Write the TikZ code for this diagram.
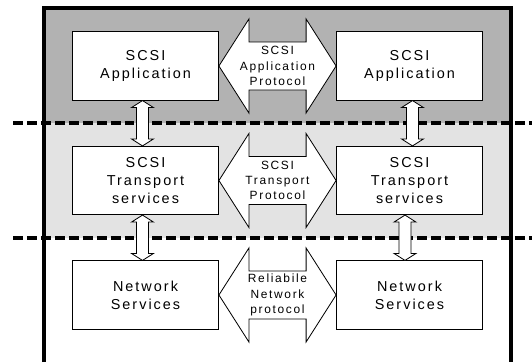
\documentclass[tikz,border=0pt]{standalone}
\usepackage{fontspec}
\setmainfont{Liberation Sans}
\newfontfamily\spacedfont[LetterSpace=14]{Liberation Sans}
\usetikzlibrary{calc}
\definecolor{appgray}{RGB}{178,178,178}
\definecolor{trgray}{RGB}{227,227,227}
\begin{document}
\begin{tikzpicture}[x=0.03cm,y=-0.03cm,
  layer/.style={draw,fill=white,line width=0.7pt,minimum width=4.38cm,minimum height=2.05cm,inner sep=0pt,align=center,font=\spacedfont\fontsize{12.3}{15.5}\selectfont},
  proto/.style={draw,fill=white,line width=0.7pt,line join=miter},
  protext/.style={align=center,inner sep=0pt,font=\spacedfont\fontsize{10.2}{13}\selectfont},
  link/.style={draw,fill=white,line width=0.7pt},
  border/.style={line width=2.8pt,dash pattern=on 8.5pt off 3.4pt}]
\useasboundingbox (0,0) rectangle (532,362);
\pgfmathsetmacro{\hl}{30}
\pgfmathsetmacro{\hh}{47}
\pgfmathsetmacro{\sh}{24}
%layer bands
\fill[appgray] (44,8) rectangle (511,123);
\fill[trgray] (44,123) rectangle (511,238);
%layer borders
\draw[border] (13,123)--(532,123);
\draw[border] (13,238)--(532,238);
%outer frame, open below
\draw[line width=3.4pt] (44,362)--(44,8)--(511,8)--(511,362);
%layer boxes
\node[layer] (appL) at (145.5,66) {SCSI\\Application};
\node[layer] (appR) at (409.5,66) {SCSI\\Application};
\node[layer] (trL) at (145.5,180.5) {SCSI\\Transport\\services};
\node[layer] (trR) at (409.5,180.5) {SCSI\\Transport\\services};
\node[layer] (netL) at (145.5,295) {Network\\Services};
\node[layer] (netR) at (409.5,295) {Network\\Services};
%peer protocols
\foreach \a/\b/\txt in {appL/appR/{SCSI\\Application\\Protocol},trL/trR/{SCSI\\Transport\\Protocol},netL/netR/{Reliabile\\Network\\protocol}}{
  \draw[proto] (\a.east)--++(\hl,-\hh)--++(0,\hh-\sh)--($(\b.west)+(-\hl,-\sh)$)--++(0,\sh-\hh)--(\b.west)
    --++(-\hl,\hh)--++(0,\sh-\hh)--($(\a.east)+(\hl,\sh)$)--++(0,\hh-\sh)--cycle;
  \node[protext] (\a txt) at ($(\a.east)!0.5!(\b.west)$) {\txt};
}
%interfaces between layers
\foreach \u/\d/\s in {appL/trL/-3,appR/trR/3,trL/netL/-3,trR/netR/-4.5}{
  \draw[link] ($(\u.south)+(\s,0)$)--++(11,7)--++(-5,0)--($(\d.north)+(\s+6,-7)$)--++(5,0)--($(\d.north)+(\s,0)$)
    --++(-11,-7)--++(5,0)--($(\u.south)+(\s-6,7)$)--++(-5,0)--cycle;
}
\end{tikzpicture}
\end{document}
